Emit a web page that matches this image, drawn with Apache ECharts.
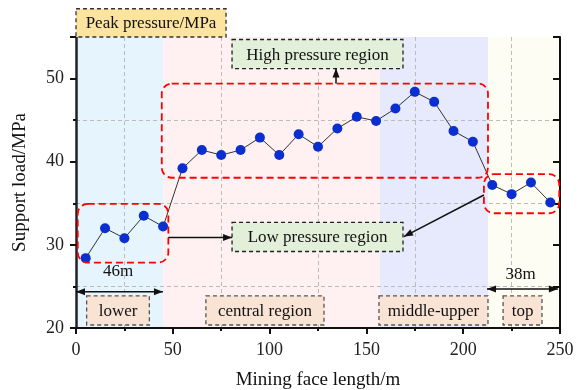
<!DOCTYPE html>
<html>
<head>
<meta charset="utf-8">
<script src="https://cdn.jsdelivr.net/npm/echarts@6/dist/echarts.min.js"></script>
<style>
  html, body { margin: 0; padding: 0; background: #fff; }
  #main { width: 585px; height: 390px; }
</style>
</head>
<body>
<div id="main"></div>
<script>
// data
var faceLength = [5, 15, 25, 35, 45, 55, 65, 75, 85, 95, 105, 115, 125, 135, 145, 155, 165, 175, 185, 195, 205, 215, 225, 235, 245];
var supportLoad = [28.4, 32.0, 30.8, 33.5, 32.2, 39.2, 41.4, 40.8, 41.4, 42.9, 40.8, 43.3, 41.8, 44.0, 45.4, 44.9, 46.4, 48.4, 47.2, 43.7, 42.4, 37.2, 36.1, 37.5, 35.1];
var regionEdges = [0, 45, 157, 213, 250];
var regionColors = ['#e5f4fd', '#fff1f1', '#e7e9fc', '#fdfdf3'];
var xTicks = { min: 0, max: 250, step: 50 };
var yTicks = { min: 20, max: 55, step: 10 };

var FONT = 'Liberation Serif';

function initChart() {
  var chart = echarts.init(document.getElementById('main'));

  var bands = [];
  for (var i = 0; i < regionColors.length; i++) {
    bands.push([{ xAxis: regionEdges[i], itemStyle: { color: regionColors[i] } }, { xAxis: regionEdges[i + 1] }]);
  }
  var points = faceLength.map(function (x, i) { return [x, supportLoad[i]]; });

  var option = {
    animation: false,
    grid: { left: 76, right: 25, top: 37, bottom: 62, containLabel: false, outerBoundsMode: 'none' },
    xAxis: {
      type: 'value',
      z: 1.5,
      min: xTicks.min, max: xTicks.max, interval: xTicks.step,
      name: 'Mining face length/m',
      nameLocation: 'middle', nameGap: 43,
      nameTextStyle: { fontFamily: FONT, fontSize: 19, color: '#111' },
      axisLine: { lineStyle: { color: '#111', width: 2 } },
      axisTick: { inside: false, length: 6, lineStyle: { color: '#111', width: 2 } },
      minorTick: { show: true, splitNumber: 2, length: 3, lineStyle: { color: '#111', width: 2 } },
      axisLabel: { fontFamily: FONT, fontSize: 18, color: '#222', margin: 13 },
      splitLine: { show: false },
      minorSplitLine: { show: true, lineStyle: { color: '#bbb', type: [4, 3], width: 1 } }
    },
    yAxis: [{
      type: 'value',
      z: 1.5,
      min: yTicks.min, max: yTicks.max, interval: yTicks.step,
      name: 'Support load/MPa',
      nameLocation: 'middle', nameGap: 46,
      nameTextStyle: { fontFamily: FONT, fontSize: 19, color: '#111' },
      axisLine: { show: true, lineStyle: { color: '#222', width: 2.5 } },
      axisTick: { show: true, inside: false, length: 6, lineStyle: { color: '#111', width: 2 } },
      minorTick: { show: true, splitNumber: 2, length: 3, lineStyle: { color: '#111', width: 2 } },
      axisLabel: {
        fontFamily: FONT, fontSize: 18, color: '#222', margin: 12,
        formatter: function (v) { return v % 10 === 0 ? v : ''; }
      },
      splitLine: { show: false }
    }, {
      type: 'value',
      z: 1.5,
      position: 'right',
      min: yTicks.min, max: yTicks.max, interval: 5,
      axisLine: { show: true, lineStyle: { color: '#111', width: 2 } },
      axisTick: { show: true, inside: true, length: 7, lineStyle: { color: '#111', width: 2 } },
      axisLabel: { show: false },
      splitLine: {
        show: true, showMaxLine: false,
        lineStyle: { color: ['rgba(0,0,0,0)', '#bbb'], type: [4, 3], width: 1 }
      }
    }],
    series: [{
      type: 'line',
      z: 0,
      silent: true,
      data: [],
      markArea: { silent: true, z: 0, data: bands }
    }, {
      type: 'line',
      z: 3,
      data: points,
      symbol: 'circle',
      symbolSize: 10,
      lineStyle: { color: '#333', width: 1 },
      itemStyle: { color: '#0b2ed0' }
    }]
  };
  chart.setOption(option);

  // annotations, placed in data units and converted to pixels
  function px(x, y) { return chart.convertToPixel({ gridIndex: 0 }, [x, y]); }

  var graphics = [];

  function box(text, x0, x1, y0, y1, fill, stroke) {
    var a = px(x0, y0), b = px(x1, y1);
    graphics.push({
      type: 'rect', z: 10,
      shape: { x: a[0], y: a[1], width: b[0] - a[0], height: b[1] - a[1] },
      style: { fill: fill, stroke: stroke, lineWidth: 1.3, lineDash: [4, 3] }
    });
    graphics.push({
      type: 'text', z: 11,
      style: {
        text: text, x: (a[0] + b[0]) / 2, y: (a[1] + b[1]) / 2 + 1,
        align: 'center', verticalAlign: 'middle',
        font: '17px "' + FONT + '"', fill: '#111'
      }
    });
  }

  function redRect(x0, x1, y0, y1) {
    var a = px(x0, y0), b = px(x1, y1);
    graphics.push({
      type: 'rect', z: 9,
      shape: { x: a[0], y: a[1], width: b[0] - a[0], height: b[1] - a[1], r: 10 },
      style: { fill: 'none', stroke: '#ff0000', lineWidth: 1.8, lineDash: [7, 4] }
    });
  }

  function head(tip, from) {
    var dx = tip[0] - from[0], dy = tip[1] - from[1];
    var len = Math.sqrt(dx * dx + dy * dy);
    var ux = dx / len, uy = dy / len;
    var L = 9, W = 3.5;
    var bx = tip[0] - ux * L, by = tip[1] - uy * L;
    graphics.push({
      type: 'polygon', z: 12,
      shape: { points: [tip, [bx - uy * W, by + ux * W], [bx + uy * W, by - ux * W]] },
      style: { fill: '#111' }
    });
  }

  function arrow(x0, y0, x1, y1, both) {
    var a = px(x0, y0), b = px(x1, y1);
    graphics.push({
      type: 'line', z: 12,
      shape: { x1: a[0], y1: a[1], x2: b[0], y2: b[1] },
      style: { stroke: '#111', lineWidth: 1.5 }
    });
    head(b, a);
    if (both) head(a, b);
  }

  function label(text, x, y) {
    var p = px(x, y);
    graphics.push({
      type: 'text', z: 12,
      style: { text: text, x: p[0], y: p[1], align: 'center', verticalAlign: 'middle', font: '17px "' + FONT + '"', fill: '#111' }
    });
  }

  box('Peak pressure/MPa', 0, 77.5, 58.4, 55, '#fde3a0', '#333');
  box('High pressure region', 80.6, 168.9, 54.7, 51.2, '#e2efd9', '#222');
  box('Low pressure region', 80.6, 168.9, 32.7, 29.2, '#e2efd9', '#222');
  box('lower', 5.5, 37.9, 23.86, 20.36, '#f9e3d5', '#555');
  box('central region', 67.1, 128.1, 23.86, 20.36, '#f9e3d5', '#555');
  box('middle-upper', 156.5, 212.8, 23.86, 20.36, '#f9e3d5', '#555');
  box('top', 220.6, 240.7, 23.86, 20.36, '#f9e3d5', '#555');

  redRect(44.3, 212.8, 49.4, 38.07);
  redRect(0.9, 47.7, 34.94, 27.87);
  redRect(210.7, 249.6, 38.5, 33.8);

  arrow(134.3, 49.4, 134.3, 51.2);
  arrow(47.7, 30.87, 80.6, 30.87);
  arrow(210.7, 36.0, 169.4, 31.0);
  arrow(0, 24.37, 44.9, 24.37, true);
  arrow(212.3, 24.7, 248.9, 24.7, true);

  label('46m', 21.7, 26.75);
  label('38m', 229.7, 26.4);

  chart.setOption({ graphic: graphics });
}

initChart();
</script>
</body>
</html>
